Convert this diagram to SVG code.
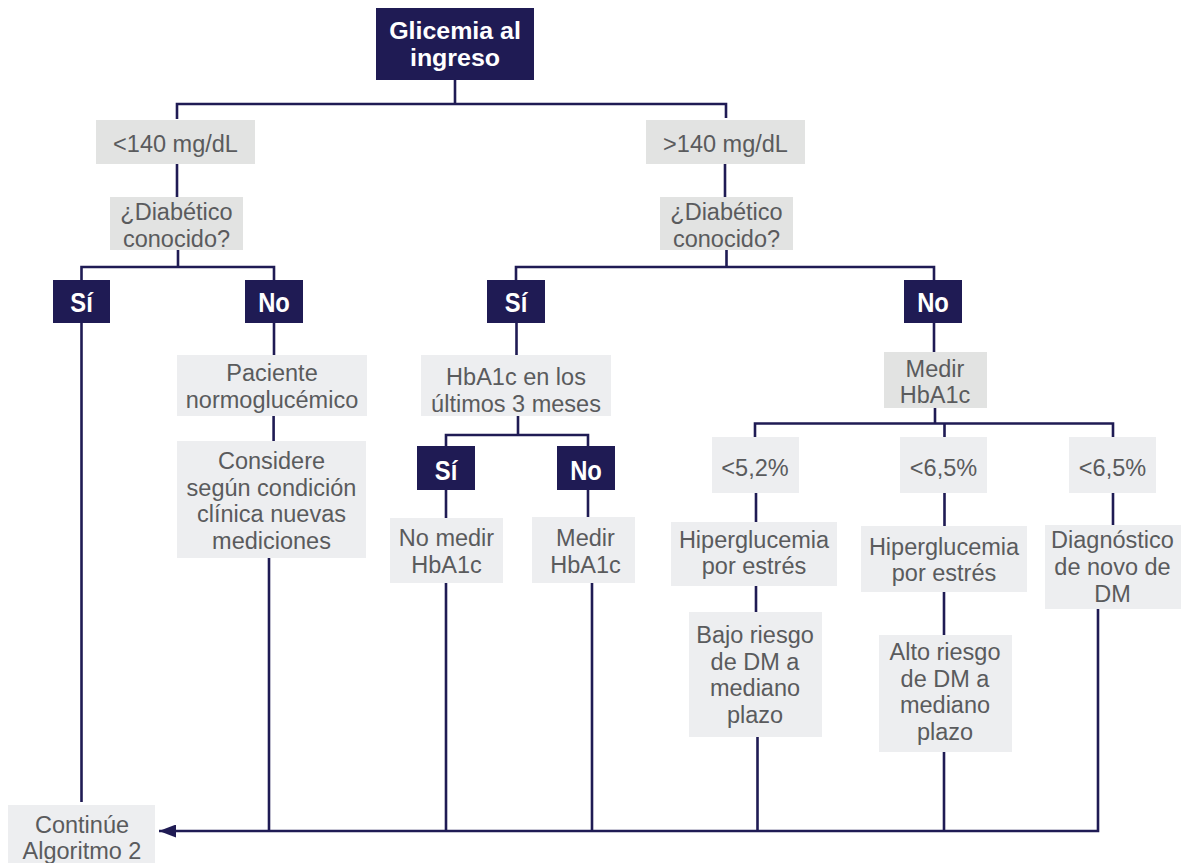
<svg xmlns="http://www.w3.org/2000/svg" width="1181" height="863" viewBox="0 0 1181 863">
<defs>
<style>
.bx{fill:#edeef0}
.bg{fill:#e2e3e2}
.dk{fill:#1f1b54}
.t{font-family:'Liberation Sans',Arial,sans-serif;font-size:23.5px;fill:#5a5b5d;text-anchor:middle}
.w{font-family:'Liberation Sans',Arial,sans-serif;font-size:28px;font-weight:bold;fill:#ffffff;text-anchor:middle}
.ti{font-family:'Liberation Sans',Arial,sans-serif;font-size:24px;font-weight:bold;fill:#ffffff;text-anchor:middle}
.c{fill:none;stroke:#1f1b54;stroke-width:2.6}
</style>
<marker id="arr" markerUnits="userSpaceOnUse" viewBox="0 0 17 13" refX="17" refY="6.5" markerWidth="17" markerHeight="13" orient="auto">
<path d="M0,0 L17,6.5 L0,13 z" fill="#1f1b54"/>
</marker>
</defs>
<rect width="1181" height="863" fill="#ffffff"/>

<g id="connectors">
<path class="c" d="M455,80 V104 M177,119 V104 H726 V118"/>
<path class="c" d="M177,164 V197"/>
<path class="c" d="M725,164 V197"/>
<path class="c" d="M178,250 V267 M81.5,280 V267 H274 V280"/>
<path class="c" d="M726.5,250 V267 M516,280 V267 H934 V280"/>
<path class="c" d="M81.5,323 V802"/>
<path class="c" d="M274,323 V355"/>
<path class="c" d="M273.6,416 V441"/>
<path class="c" d="M269,558 V831"/>
<path class="c" d="M516.5,323 V355"/>
<path class="c" d="M518,416 V435 M446,446 V435 H588 V446"/>
<path class="c" d="M446,490 V518 M588,490 V517"/>
<path class="c" d="M446,583 V831 M592,583 V831"/>
<path class="c" d="M934,323 V352"/>
<path class="c" d="M935,408 V423.5 M755,437 V423.5 H1113 V437 M944.5,423.5 V437"/>
<path class="c" d="M756,493 V522 M944.5,493 V526 M1113,493 V525"/>
<path class="c" d="M756,586 V612 M944,592 V635"/>
<path class="c" d="M757.5,737 V831 M944,752 V831"/>
<path class="c" d="M1098,609 V831 H159" marker-end="url(#arr)"/>
</g>

<g id="n_title">
<rect class="dk" x="376" y="8" width="158" height="72"/>
<text class="ti" transform="translate(455,39) scale(1.04,1)"><tspan x="0" y="0">Glicemia al</tspan><tspan x="0" y="27">ingreso</tspan></text>
</g>
<g id="n_lt140">
<rect class="bg" x="96" y="120" width="159" height="44"/>
<text class="t" x="175.5" y="152">&lt;140 mg/dL</text>
</g>
<g id="n_gt140">
<rect class="bg" x="646" y="120" width="159" height="44"/>
<text class="t" x="725.5" y="152">&gt;140 mg/dL</text>
</g>
<g id="n_diab_l">
<rect class="bg" x="110" y="197" width="133" height="53"/>
<text class="t"><tspan x="176.5" y="220">¿Diabético</tspan><tspan x="176.5" y="246.5">conocido?</tspan></text>
</g>
<g id="n_diab_r">
<rect class="bg" x="660" y="197" width="133" height="53"/>
<text class="t"><tspan x="726.5" y="220">¿Diabético</tspan><tspan x="726.5" y="246.5">conocido?</tspan></text>
</g>
<g id="n_si_l">
<rect class="dk" x="53" y="280" width="57" height="43"/>
<text class="w" transform="translate(81.5,312) scale(0.85,1)">Sí</text>
</g>
<g id="n_no_l">
<rect class="dk" x="245" y="280" width="58" height="43"/>
<text class="w" transform="translate(274,312) scale(0.85,1)">No</text>
</g>
<g id="n_si_r">
<rect class="dk" x="487" y="280" width="58" height="43"/>
<text class="w" transform="translate(516,312) scale(0.85,1)">Sí</text>
</g>
<g id="n_no_r">
<rect class="dk" x="904" y="280" width="58" height="43"/>
<text class="w" transform="translate(933,312) scale(0.85,1)">No</text>
</g>
<g id="n_paciente">
<rect class="bx" x="177" y="355" width="190" height="61"/>
<text class="t"><tspan x="272" y="381">Paciente</tspan><tspan x="272" y="407.5">normoglucémico</tspan></text>
</g>
<g id="n_considere">
<rect class="bx" x="177" y="441" width="189" height="117"/>
<text class="t"><tspan x="271.5" y="469">Considere</tspan><tspan x="271.5" y="495.5">según condición</tspan><tspan x="271.5" y="522">clínica nuevas</tspan><tspan x="271.5" y="548.5">mediciones</tspan></text>
</g>
<g id="n_hba1c3">
<rect class="bx" x="421" y="355" width="190" height="61"/>
<text class="t"><tspan x="516" y="384.5">HbA1c en los</tspan><tspan x="516" y="411.5">últimos 3 meses</tspan></text>
</g>
<g id="n_si2">
<rect class="dk" x="417" y="446" width="58" height="44"/>
<text class="w" transform="translate(446,479.5) scale(0.85,1)">Sí</text>
</g>
<g id="n_no2">
<rect class="dk" x="557" y="446" width="58" height="44"/>
<text class="w" transform="translate(586,479.5) scale(0.85,1)">No</text>
</g>
<g id="n_nomedir">
<rect class="bx" x="390" y="518" width="113" height="65"/>
<text class="t"><tspan x="446.5" y="546">No medir</tspan><tspan x="446.5" y="573">HbA1c</tspan></text>
</g>
<g id="n_medir_l">
<rect class="bx" x="532" y="517" width="103" height="66"/>
<text class="t"><tspan x="585.5" y="546">Medir</tspan><tspan x="585.5" y="573">HbA1c</tspan></text>
</g>
<g id="n_medir_r">
<rect class="bg" x="884" y="352" width="103" height="56"/>
<text class="t"><tspan x="935" y="376.5">Medir</tspan><tspan x="935" y="403">HbA1c</tspan></text>
</g>
<g id="n_p52">
<rect class="bx" x="712" y="437" width="87" height="56"/>
<text class="t" x="755" y="476">&lt;5,2%</text>
</g>
<g id="n_p65a">
<rect class="bx" x="900" y="437" width="87" height="56"/>
<text class="t" x="943.5" y="476">&lt;6,5%</text>
</g>
<g id="n_p65b">
<rect class="bx" x="1069" y="437" width="87" height="56"/>
<text class="t" x="1112.5" y="476">&lt;6,5%</text>
</g>
<g id="n_hiper1">
<rect class="bx" x="671" y="522" width="166" height="64"/>
<text class="t"><tspan x="754" y="547.5">Hiperglucemia</tspan><tspan x="754" y="574">por estrés</tspan></text>
</g>
<g id="n_hiper2">
<rect class="bx" x="861" y="526" width="166" height="66"/>
<text class="t"><tspan x="944" y="554.5">Hiperglucemia</tspan><tspan x="944" y="581">por estrés</tspan></text>
</g>
<g id="n_diag">
<rect class="bx" x="1045" y="525" width="136" height="84"/>
<text class="t"><tspan x="1112.5" y="548">Diagnóstico</tspan><tspan x="1112.5" y="575">de novo de</tspan><tspan x="1112.5" y="602">DM</tspan></text>
</g>
<g id="n_bajo">
<rect class="bx" x="689" y="612" width="133" height="125"/>
<text class="t"><tspan x="755" y="643">Bajo riesgo</tspan><tspan x="755" y="669.7">de DM a</tspan><tspan x="755" y="696.4">mediano</tspan><tspan x="755" y="723">plazo</tspan></text>
</g>
<g id="n_alto">
<rect class="bx" x="879" y="635" width="133" height="117"/>
<text class="t"><tspan x="945" y="660">Alto riesgo</tspan><tspan x="945" y="686.5">de DM a</tspan><tspan x="945" y="713">mediano</tspan><tspan x="945" y="739.5">plazo</tspan></text>
</g>
<g id="n_cont">
<rect class="bx" x="8" y="805" width="147" height="58"/>
<text class="t"><tspan x="82" y="832.5">Continúe</tspan><tspan x="82" y="859">Algoritmo 2</tspan></text>
</g>
</svg>
